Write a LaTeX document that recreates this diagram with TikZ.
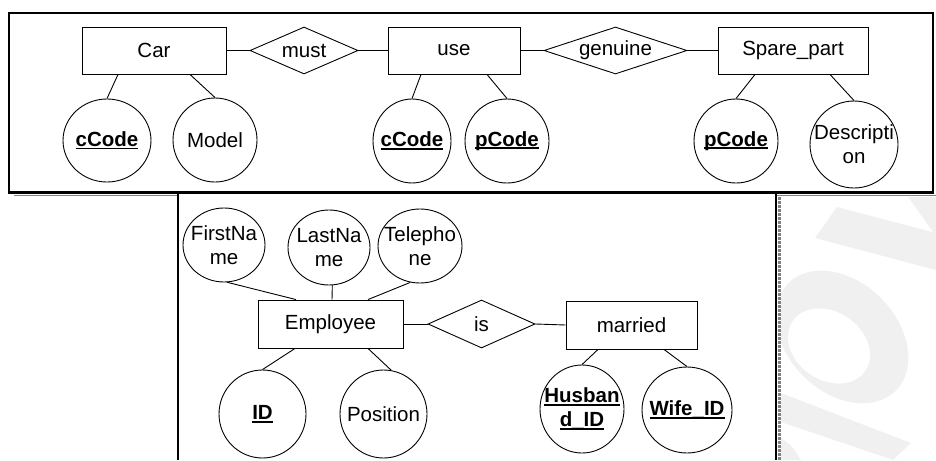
\documentclass[tikz,border=0pt]{standalone}
\usepackage{fontspec}
\setmainfont{Liberation Sans}
\usetikzlibrary{shapes.geometric}
\definecolor{wmgray}{RGB}{240,240,240}
\definecolor{rulegray}{RGB}{128,128,128}
% bold key attribute with a flat underline just under the baseline
\newcommand{\keyattr}[1]{{\bfseries\setbox0=\hbox{#1}\rlap{\rule[-3pt]{\wd0}{1.9pt}}\box0}}
\begin{document}
\begin{tikzpicture}[x=1pt,y=-1pt,
  font=\fontsize{20.5}{24}\selectfont,
  ent/.style={draw, rectangle, inner sep=0, line width=0.9pt},
  rel/.style={draw, diamond, inner sep=0, line width=0.9pt},
  attr/.style={draw, ellipse, inner sep=0, line width=0.9pt},
  txt/.style={align=center, inner sep=0},
  link/.style={line width=0.9pt},
  frame/.style={line width=2.6pt},
]
\useasboundingbox (0,0) rectangle (936,460);

% faint background watermark in the lower right corner
\begin{scope}
  \clip (781,197) rectangle (936,460);
  \fill[wmgray] (837,207) -- (936,233) -- (936,270) -- (815,238) -- cycle;
  \fill[wmgray] (908,197) -- (936,197) -- (936,236) -- cycle;
  \begin{scope}[shift={(842,337)}, rotate=-45]
    \fill[wmgray] (0,0) ellipse [x radius=76, y radius=55];
  \end{scope}
  \begin{scope}[shift={(829,346)}, rotate=-35]
    \fill[white] (0,0) ellipse [x radius=44, y radius=34];
  \end{scope}
  \fill[wmgray] (781,393) -- (911,443) -- (893,460) -- (781,422) -- cycle;
  \fill[wmgray] (781,438) .. controls (792,446) .. (801,460) -- (781,460) -- cycle;
\end{scope}

% frames
\draw[frame] (9,13) rectangle (933,192.7);
\draw[rulegray, line width=1.5pt] (14,195.5) -- (177,195.5);
\draw[rulegray, line width=1.5pt] (777,195.5) -- (936,195.5);
\draw[frame] (178,192.7) -- (178,460);
\draw[frame] (776,192.7) -- (776,460);
\draw[rulegray, line width=3pt, dash pattern=on 3pt off 1pt] (779.5,197) -- (779.5,460);

% ---- Car / use / Spare_part ----
\node[ent, minimum width=144, minimum height=47] (car) at (154,50.5) {Car};
\node[rel, minimum width=108, minimum height=47, label={[txt]center:must}] (must) at (304,50.5) {};
\node[ent, minimum width=132, minimum height=47] (use) at (454,50.5) {use};
\node[rel, minimum width=143, minimum height=47, label={[txt]center:genuine}] (gen) at (615.5,50.5) {};
\node[ent, minimum width=150, minimum height=47] (spare) at (793,50.5) {Spare\_part};

\node[attr, minimum width=88, minimum height=83, label={[txt]center:\keyattr{cCode}}] (carcode) at (107,140.5) {};
\node[attr, minimum width=84, minimum height=84, label={[txt]center:Model}] (model) at (215,140) {};
\node[attr, minimum width=78, minimum height=84, label={[txt]center:\keyattr{cCode}}] (usecc) at (412,141) {};
\node[attr, minimum width=84, minimum height=84, label={[txt]center:\keyattr{pCode}}] (usepc) at (507,141) {};
\node[attr, minimum width=84, minimum height=84, label={[txt]center:\keyattr{pCode}}] (sparepc) at (736,141) {};
\node[attr, minimum width=88, minimum height=87, label={[txt]center:Descripti\\on}] (desc) at (854,144.5) {};

\draw[link] (car.east) -- (must.west);
\draw[link] (must.east) -- (use.west);
\draw[link] (use.east) -- (gen.west);
\draw[link] (gen.east) -- (spare.west);
\draw[link] ([xshift=-36pt]car.south) -- (carcode.north);
\draw[link] ([xshift=36pt]car.south) -- (model.north);
\draw[link] ([xshift=-33pt]use.south) -- (usecc.north);
\draw[link] ([xshift=33pt]use.south) -- (usepc.north);
\draw[link] ([xshift=-38pt]spare.south) -- (sparepc.north);
\draw[link] ([xshift=37pt]spare.south) -- (desc.north);

% ---- Employee / married ----
\node[attr, minimum width=82, minimum height=74, label={[txt]center:FirstNa\\me}] (fname) at (224,245) {};
\node[attr, minimum width=82, minimum height=75, label={[txt]center:LastNa\\me}] (lname) at (329,247.5) {};
\node[attr, minimum width=84, minimum height=74, label={[txt]center:Telepho\\ne}] (phone) at (420,246) {};
\node[ent, minimum width=145, minimum height=48] (emp) at (330.5,324) {Employee};
\node[rel, minimum width=107, minimum height=48, label={[txt]center:is}] (is) at (481.5,324) {};
\node[ent, minimum width=131, minimum height=48] (mar) at (631.5,325) {married};
\node[attr, minimum width=87, minimum height=88, label={[txt]center:\keyattr{ID}}] (eid) at (262.5,414) {};
\node[attr, minimum width=87, minimum height=88, label={[txt]center:Position}] (pos) at (383.5,414) {};
\node[attr, minimum width=84, minimum height=88, label={[txt]center:\keyattr{Husban}\\\keyattr{d\_ID}}] (hus) at (582,409) {};
\node[attr, minimum width=90, minimum height=86, label={[txt]center:\keyattr{Wife\_ID}}] (wife) at (687,410) {};

\draw[link] (emp.east) -- (is.west);
\draw[link] (is.east) -- (mar.west);
\draw[link] ([xshift=-34.5pt]emp.north) -- (fname.-85);
\draw[link] ([xshift=1.5pt]emp.north) -- (lname.-85);
\draw[link] ([xshift=37.5pt]emp.north) -- (phone.-105);
\draw[link] ([xshift=-35.5pt]emp.south) -- (eid.north);
\draw[link] ([xshift=37.5pt]emp.south) -- (pos.80);
\draw[link] ([xshift=-33.5pt]mar.south) -- (hus.north);
\draw[link] ([xshift=32.5pt]mar.south) -- (wife.north);
\end{tikzpicture}
\end{document}
